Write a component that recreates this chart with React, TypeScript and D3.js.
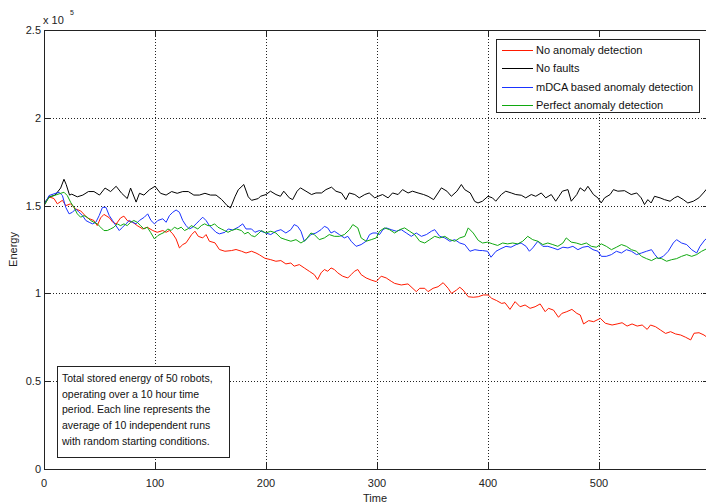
import * as d3 from "d3";

// time (x) and energy (x 10^5)
const noAnomalyDetection: [number, number][] = [
  [0, 1.5], [4.5, 1.55], [9, 1.54], [12, 1.51], [16.6, 1.53], [19.6, 1.5], [24, 1.51], [28.6, 1.48], [33, 1.47],
  [39, 1.43], [45, 1.415], [48, 1.386], [51, 1.43], [54, 1.45], [59, 1.43], [62, 1.405], [65, 1.395], [69, 1.43],
  [72, 1.44], [75, 1.415], [80, 1.405], [84, 1.386], [89, 1.367], [93, 1.377], [98, 1.358], [102, 1.348],
  [107, 1.358], [110, 1.348], [113, 1.358], [116, 1.339], [119, 1.31], [122, 1.259], [125, 1.278], [128, 1.288],
  [133, 1.335], [136, 1.354], [139, 1.325], [143, 1.316], [146, 1.335], [149, 1.297], [154, 1.288], [158, 1.25],
  [163, 1.24], [169, 1.244], [173, 1.25], [178, 1.24], [182, 1.23], [187, 1.24], [191, 1.23], [194, 1.22],
  [199, 1.2], [204.3, 1.192], [208.9, 1.183], [213.4, 1.187], [217.9, 1.168], [222.4, 1.173], [225.4, 1.155],
  [230, 1.164], [234.5, 1.145], [239, 1.126], [243.5, 1.107], [246.5, 1.079], [249.6, 1.117], [252.6, 1.136],
  [255.6, 1.126], [258.6, 1.145], [261.6, 1.136], [264.6, 1.117], [269.1, 1.098], [273.7, 1.088], [276.7, 1.107],
  [279.7, 1.126], [282.7, 1.136], [285.7, 1.107], [290.2, 1.088], [294.8, 1.076], [299.3, 1.067], [303.8, 1.098],
  [308.3, 1.088], [312.8, 1.069], [315.9, 1.057], [321.9, 1.048], [327.9, 1.054], [335.4, 1.01], [338.5, 1.029],
  [343, 1.029], [346, 1.01], [350.5, 1.029], [355, 1.038], [359.6, 1.061], [364.1, 1.029], [367.1, 1.0],
  [371.6, 1.019], [374.6, 1.035], [377.6, 1.019], [382.2, 0.981], [386.7, 0.978], [391.2, 0.981], [395.7, 0.991],
  [400.2, 0.991], [403.3, 0.972], [407.8, 0.959], [412.3, 0.943], [415.3, 0.947], [419.8, 0.909], [424.4, 0.953],
  [428.9, 0.924], [433.4, 0.934], [437.9, 0.915], [442.4, 0.924], [447, 0.94], [451.5, 0.896], [454.5, 0.915],
  [459, 0.905], [463.5, 0.864], [466.5, 0.886], [471, 0.896], [475.6, 0.909], [480.1, 0.886], [483.1, 0.877],
  [486.1, 0.826], [490.7, 0.845], [495.2, 0.839], [501.2, 0.858], [505.7, 0.83], [511.8, 0.82], [516.3, 0.826],
  [520.8, 0.833], [525.3, 0.814], [529.8, 0.826], [534.4, 0.814], [538.9, 0.82], [543.4, 0.795], [546.4, 0.82],
  [551, 0.81], [555.5, 0.791], [560, 0.772], [564.5, 0.782], [569, 0.769], [573.6, 0.763], [578.1, 0.75],
  [582.6, 0.735], [585.6, 0.773], [590.1, 0.776], [594.6, 0.763], [598.6, 0.744],
];

const noFaults: [number, number][] = [
  [0, 1.5], [2, 1.53], [5, 1.55], [10, 1.56], [15, 1.6], [18, 1.65], [20, 1.62], [23, 1.56], [25, 1.565],
  [30, 1.55], [35, 1.56], [40, 1.58], [45, 1.58], [50, 1.56], [55, 1.6], [60, 1.58], [65, 1.61], [70, 1.57],
  [75, 1.54], [78, 1.6], [83, 1.52], [86, 1.57], [90, 1.56], [95, 1.59], [100, 1.61], [105, 1.57], [110, 1.56],
  [115, 1.58], [120, 1.57], [125, 1.58], [130, 1.58], [135, 1.56], [140, 1.56], [145, 1.57], [150, 1.56],
  [155, 1.56], [160, 1.535], [165, 1.5], [168, 1.487], [172, 1.55], [175, 1.59], [180, 1.62], [184, 1.55],
  [187, 1.53], [193, 1.54], [195, 1.553], [200, 1.563], [204, 1.582], [209, 1.563], [213, 1.553], [216, 1.582],
  [221, 1.544], [224, 1.534], [228, 1.582], [231, 1.601], [236, 1.582], [241, 1.563], [245, 1.572], [250, 1.572],
  [254, 1.591], [259, 1.605], [263, 1.582], [268, 1.572], [272, 1.534], [275, 1.572], [280, 1.563], [284, 1.544],
  [289, 1.563], [293, 1.572], [298, 1.544], [301, 1.553], [305, 1.563], [310, 1.544], [314, 1.572], [319, 1.563],
  [323, 1.591], [328, 1.572], [332, 1.582], [337, 1.572], [342, 1.563], [346, 1.553], [351, 1.534], [355, 1.572],
  [358, 1.601], [363, 1.582], [367, 1.553], [372, 1.582], [376, 1.62], [379, 1.591], [384, 1.572], [388, 1.524],
  [391, 1.515], [395, 1.525], [400, 1.553], [404, 1.544], [407, 1.525], [412, 1.563], [416, 1.582], [421, 1.572],
  [425, 1.563], [430, 1.559], [434, 1.544], [439, 1.563], [443, 1.553], [448, 1.572], [452, 1.544], [457, 1.563],
  [461, 1.525], [464, 1.553], [467, 1.582], [472, 1.591], [475, 1.525], [480, 1.563], [483, 1.601], [487, 1.582],
  [490, 1.61], [495, 1.563], [499, 1.544], [502, 1.515], [505, 1.544], [510, 1.563], [513, 1.591], [517, 1.582],
  [523, 1.585], [529, 1.563], [534, 1.572], [538, 1.544], [541, 1.506], [544, 1.534], [547, 1.515], [550, 1.553],
  [555, 1.544], [559, 1.534], [564, 1.525], [568, 1.544], [571, 1.553], [576, 1.534], [580, 1.515], [585, 1.525],
  [590, 1.544], [594, 1.572], [599, 1.61],
];

const mdcaDetection: [number, number][] = [
  [0, 1.5], [4.5, 1.557], [9, 1.567], [13.6, 1.576], [16.6, 1.557], [19.6, 1.49], [22.6, 1.453], [25.6, 1.462],
  [28.6, 1.481], [31.6, 1.462], [34.7, 1.443], [37.7, 1.415], [40.7, 1.405], [43.7, 1.396], [46.7, 1.405],
  [49.7, 1.443], [52.7, 1.49], [55.8, 1.49], [58.8, 1.443], [61.8, 1.415], [64.8, 1.386], [67.8, 1.358],
  [70.8, 1.377], [73.8, 1.396], [76.9, 1.415], [79.9, 1.405], [82.9, 1.396], [85.9, 1.415], [90.4, 1.434],
  [93.4, 1.453], [96.4, 1.415], [99.5, 1.396], [102.5, 1.415], [107, 1.425], [110, 1.405], [113, 1.443],
  [116, 1.462], [119, 1.475], [122, 1.462], [125, 1.415], [128, 1.386], [131, 1.367], [134, 1.377], [137, 1.396],
  [140, 1.415], [143, 1.434], [146, 1.415], [149, 1.386], [152, 1.367], [155, 1.348], [158, 1.339], [163, 1.348],
  [166, 1.367], [170, 1.361], [175, 1.377], [179, 1.396], [182, 1.367], [187, 1.367], [190, 1.348], [194, 1.358],
  [199.8, 1.344], [204.3, 1.335], [208.9, 1.354], [213.4, 1.363], [217.9, 1.344], [222.4, 1.363], [225.4, 1.392],
  [228.5, 1.382], [231.5, 1.354], [234.5, 1.297], [237.5, 1.316], [240.5, 1.335], [245, 1.344], [249.6, 1.363],
  [252.6, 1.382], [255.6, 1.373], [258.6, 1.344], [261.6, 1.354], [266.1, 1.335], [270.6, 1.316], [273.7, 1.325],
  [276.7, 1.297], [281.2, 1.268], [285.7, 1.278], [290.2, 1.297], [293.3, 1.335], [296.3, 1.344], [299.3, 1.344],
  [302.3, 1.335], [305.3, 1.363], [308.3, 1.373], [312.8, 1.363], [317.4, 1.354], [321.9, 1.363], [326.4, 1.344],
  [330.9, 1.325], [335.4, 1.344], [340, 1.325], [344.5, 1.335], [349, 1.354], [352, 1.363], [356.5, 1.325],
  [361.1, 1.316], [365.6, 1.297], [370.1, 1.306], [374.6, 1.287], [379.1, 1.278], [383.7, 1.24], [388.2, 1.249],
  [392.7, 1.244], [395.1, 1.244], [399.6, 1.24], [402.7, 1.206], [407.2, 1.24], [411.7, 1.255], [416.2, 1.268],
  [420.7, 1.263], [425.3, 1.278], [429.8, 1.287], [434.3, 1.268], [437.3, 1.24], [440.3, 1.259], [444.9, 1.297],
  [449.4, 1.268], [453.9, 1.268], [458.4, 1.259], [462.9, 1.249], [467.5, 1.263], [472, 1.259], [476.5, 1.268],
  [481, 1.249], [485.5, 1.263], [490.1, 1.268], [494.6, 1.249], [499.1, 1.24], [502.1, 1.211], [506.6, 1.211],
  [511.2, 1.221], [515.7, 1.24], [520.2, 1.23], [524.7, 1.249], [529.2, 1.24], [533.8, 1.221], [538.3, 1.23],
  [542.8, 1.24], [547.3, 1.249], [550.3, 1.221], [553.4, 1.198], [557.9, 1.211], [562.4, 1.24], [566.9, 1.287],
  [569.9, 1.306], [574.4, 1.287], [579, 1.278], [583.5, 1.249], [588, 1.23], [591, 1.268], [595.5, 1.306],
  [598.6, 1.316],
];

const perfectDetection: [number, number][] = [
  [0, 1.5], [4.5, 1.547], [9, 1.557], [13.6, 1.567], [18, 1.576], [21, 1.557], [24, 1.519], [27, 1.49],
  [30, 1.453], [33, 1.434], [36, 1.443], [39, 1.434], [42, 1.415], [45, 1.405], [48, 1.396], [51, 1.377],
  [54, 1.358], [57, 1.358], [60, 1.367], [63, 1.377], [66, 1.396], [69, 1.386], [72, 1.396], [75, 1.386],
  [78, 1.405], [81, 1.415], [84, 1.405], [87, 1.386], [90, 1.367], [93, 1.377], [96, 1.348], [99.5, 1.31],
  [102.5, 1.329], [105.5, 1.339], [108.5, 1.348], [111.5, 1.367], [114.5, 1.358], [117.5, 1.377], [120.5, 1.367],
  [123.6, 1.377], [126.6, 1.358], [129.6, 1.367], [132.6, 1.386], [135.6, 1.377], [138.6, 1.367], [141.7, 1.386],
  [144.7, 1.396], [147.7, 1.386], [150.7, 1.386], [153.7, 1.396], [156.7, 1.377], [159.7, 1.367], [162.7, 1.358],
  [165.8, 1.348], [168.8, 1.358], [173.3, 1.367], [177.8, 1.358], [180.8, 1.339], [183.8, 1.348], [186.9, 1.329],
  [189.9, 1.323], [192.9, 1.339], [195.9, 1.358], [199.8, 1.344], [204.3, 1.354], [208.9, 1.344], [213.4, 1.316],
  [217.9, 1.306], [222.4, 1.297], [227, 1.306], [231.5, 1.287], [236, 1.306], [240.5, 1.344], [243.5, 1.335],
  [248, 1.306], [252.6, 1.316], [257, 1.335], [261.6, 1.325], [266.1, 1.325], [270.6, 1.335], [275.2, 1.363],
  [278.2, 1.392], [282.7, 1.373], [285.7, 1.316], [290.2, 1.297], [294.8, 1.306], [299.3, 1.316], [302.3, 1.354],
  [306.8, 1.373], [311.3, 1.363], [315.9, 1.344], [320.4, 1.363], [324.9, 1.373], [329.4, 1.354], [333.9, 1.335],
  [338.5, 1.297], [343, 1.287], [347.5, 1.306], [352, 1.325], [356.5, 1.316], [361.1, 1.325], [365.6, 1.306],
  [370.1, 1.297], [374.6, 1.316], [379.1, 1.325], [382.2, 1.373], [386.7, 1.344], [391.2, 1.302], [395.1, 1.287],
  [399.6, 1.292], [404.2, 1.282], [408.7, 1.273], [413.2, 1.287], [417.7, 1.282], [422.2, 1.287], [426.8, 1.282],
  [431.3, 1.297], [435.8, 1.325], [440.3, 1.306], [444.9, 1.297], [449.4, 1.278], [453.9, 1.287], [458.4, 1.278],
  [462.9, 1.268], [467.5, 1.287], [470.5, 1.316], [475, 1.292], [479.5, 1.287], [484, 1.278], [488.6, 1.287],
  [493.1, 1.268], [497.6, 1.263], [502.1, 1.282], [506.6, 1.268], [511.2, 1.249], [515.7, 1.263], [520.2, 1.278],
  [524.7, 1.268], [529.2, 1.249], [533.8, 1.24], [538.3, 1.211], [542.8, 1.198], [547.3, 1.187], [551.8, 1.202],
  [556.4, 1.198], [560.9, 1.183], [565.4, 1.192], [569.9, 1.198], [574.4, 1.211], [579, 1.221], [583.5, 1.211],
  [588, 1.221], [592.5, 1.24], [598.6, 1.259],
];

const xTicks = [0, 100, 200, 300, 400, 500];
const yTicks = [0, 0.5, 1, 1.5, 2, 2.5];
const yTickLabels = ["0", "0.5", "1", "1.5", "2", "2.5"];

const legendLabels = ["No anomaly detection", "No faults", "mDCA based anomaly detection", "Perfect anomaly detection"];
const noteLines = [
  "Total stored energy of 50 robots,",
  "operating over a 10 hour time",
  "period. Each line represents the",
  "average of 10 independent runs",
  "with random starting conditions.",
];

const W = 706;
const H = 504;
const left = 44;
const right = 710;
const top = 30;
const bottom = 469;
const font = "'Liberation Sans', Arial, sans-serif";

export default function App() {
  const x = d3.scaleLinear().domain([0, 600]).range([left, right]);
  const y = d3.scaleLinear().domain([0, 2.5]).range([bottom, top]);
  const line = d3
    .line<[number, number]>()
    .x((d) => x(d[0]))
    .y((d) => y(d[1]));

  // plotted in legend order, last one on top
  const series = [
    { label: legendLabels[0], data: noAnomalyDetection, color: "#ff1a00" },
    { label: legendLabels[1], data: noFaults, color: "#000000" },
    { label: legendLabels[2], data: mdcaDetection, color: "#1a33ff" },
    { label: legendLabels[3], data: perfectDetection, color: "#10a810" },
  ];

  const axisColor = "#222";
  const tickLen = 7;

  return (
    <svg width={W} height={H} style={{ position: "absolute", left: 0, top: 0, background: "#fff" }}>
      <defs>
        <clipPath id="plotArea">
          <rect x={left} y={top} width={right - left} height={bottom - top} />
        </clipPath>
      </defs>

      {/* grid */}
      <g stroke={axisColor} strokeWidth={1} strokeDasharray="1,2" shapeRendering="crispEdges">
        {xTicks.slice(1).map((t) => (
          <line key={"gx" + t} x1={Math.round(x(t)) + 0.5} x2={Math.round(x(t)) + 0.5} y1={top} y2={bottom} />
        ))}
        {yTicks.slice(1, -1).map((t) => (
          <line key={"gy" + t} x1={left} x2={right} y1={Math.round(y(t)) + 0.5} y2={Math.round(y(t)) + 0.5} />
        ))}
      </g>

      {/* data */}
      <g clipPath="url(#plotArea)" fill="none" strokeWidth={1}>
        {series.map((s) => (
          <path key={s.label} d={line(s.data) ?? ""} stroke={s.color} />
        ))}
      </g>

      {/* axes box and ticks */}
      <g stroke={axisColor} strokeWidth={1} shapeRendering="crispEdges" fill="none">
        <rect x={left + 0.5} y={top + 0.5} width={right - left} height={bottom - top} />
        {xTicks.map((t) => {
          const px = Math.round(x(t)) + 0.5;
          return (
            <g key={"tx" + t}>
              <line x1={px} x2={px} y1={bottom} y2={bottom - tickLen} />
              <line x1={px} x2={px} y1={top} y2={top + tickLen} />
            </g>
          );
        })}
        {yTicks.map((t) => {
          const py = Math.round(y(t)) + 0.5;
          return (
            <g key={"ty" + t}>
              <line x1={left} x2={left + tickLen} y1={py} y2={py} />
              <line x1={right} x2={right - tickLen} y1={py} y2={py} />
            </g>
          );
        })}
      </g>

      {/* tick labels */}
      <g fontFamily={font} fontSize={11} fill="#222">
        {xTicks.map((t) => (
          <text key={"lx" + t} x={x(t)} y={487} textAnchor="middle">
            {t}
          </text>
        ))}
        {yTicks.map((t, i) => (
          <text key={"ly" + t} x={41} y={y(t) + 4} textAnchor="end">
            {yTickLabels[i]}
          </text>
        ))}
        <text x={43} y={24}>x 10</text>
        <text x={70} y={15} fontSize={7}>5</text>
        <text x={(left + right) / 2 - 2} y={502} textAnchor="middle">Time</text>
        <text transform={`translate(17, ${(top + bottom) / 2}) rotate(-90)`} textAnchor="middle">Energy</text>
      </g>

      {/* legend */}
      <g fontFamily={font} fontSize={11}>
        <rect x={496.5} y={39.5} width={203} height={73} fill="#fff" stroke={axisColor} shapeRendering="crispEdges" />
        {series.map((s, i) => {
          const cy = Math.round(50 + i * 18.4);
          return (
            <g key={"lg" + s.label}>
              <rect x={502} y={cy} width={31} height={1} fill={s.color} />
              <text x={536} y={cy + 4} fill="#111">
                {s.label}
              </text>
            </g>
          );
        })}
      </g>

      {/* annotation box */}
      <g fontFamily={font} fontSize={10.5}>
        <rect x={57.5} y={366.5} width={172} height={91} fill="#fff" stroke={axisColor} shapeRendering="crispEdges" />
        {noteLines.map((l, i) => (
          <text key={l} x={62} y={382 + i * 15.7} fill="#111">
            {l}
          </text>
        ))}
      </g>
    </svg>
  );
}
